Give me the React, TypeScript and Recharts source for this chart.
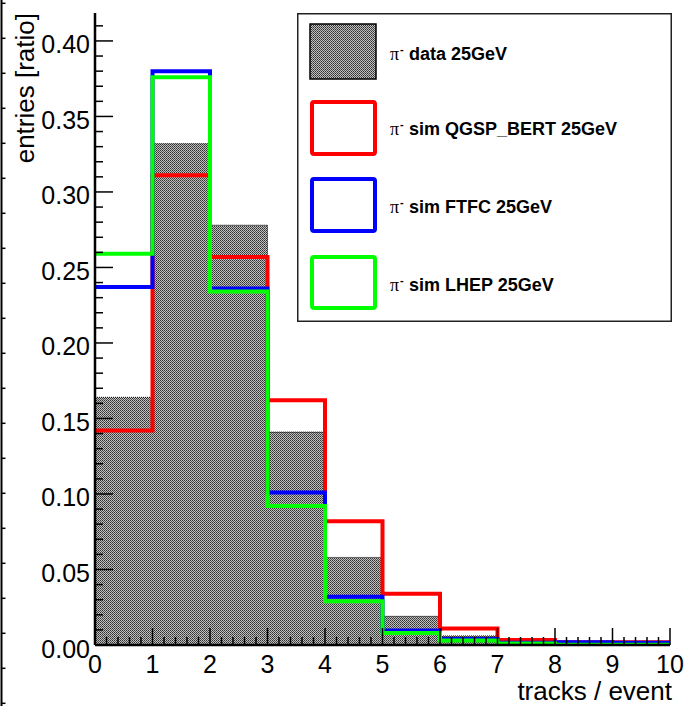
import React from 'react';
import { ComposedChart, Line, Area, XAxis, YAxis, Legend } from 'recharts';

// bin lower edges (0..9) plus the closing edge 10
const binEdges = [0, 1, 2, 3, 4, 5, 6, 7, 8, 9, 10];
// entries [ratio] per bin
const dataRatio = [0.164, 0.332, 0.278, 0.141, 0.058, 0.019, 0.006, 0.001, 0.0008, 0.0005];
const qgspRatio = [0.142, 0.311, 0.257, 0.162, 0.082, 0.034, 0.011, 0.0033, 0.0018, 0.0018];
const ftfcRatio = [0.237, 0.380, 0.236, 0.101, 0.032, 0.0096, 0.004, 0.0015, 0.0018, 0.0015];
const lhepRatio = [0.259, 0.376, 0.234, 0.092, 0.029, 0.008, 0.003, 0.001, 0.0002, 0.0002];

const xMajorTicks = [0, 1, 2, 3, 4, 5, 6, 7, 8, 9, 10];
const yMajorTicks = [0, 0.05, 0.1, 0.15, 0.2, 0.25, 0.3, 0.35, 0.4];
const xAllTicks = Array.from({ length: 51 }, (_, i) => i / 5);
const yAllTicks = Array.from({ length: 42 }, (_, i) => i / 100);

const legendPrefix = 'π';
const legendLabels = ['data 25GeV', 'sim QGSP_BERT 25GeV', 'sim FTFC 25GeV', 'sim LHEP 25GeV'];
const legendColors = ['#000000', '#ff0000', '#0000ff', '#00ff00'];

const rows = binEdges.map((x, i) => {
  const k = Math.min(i, dataRatio.length - 1);
  return { x, data: dataRatio[k], qgsp: qgspRatio[k], ftfc: ftfcRatio[k], lhep: lhepRatio[k] };
});

const FONT = '"Liberation Sans", Arial, Helvetica, sans-serif';

const isMajorX = (v: number) => xMajorTicks.some((t) => Math.abs(t - v) < 1e-6);
const isMajorY = (v: number) => yMajorTicks.some((t) => Math.abs(t - v) < 1e-6);

const BottomTick = (p: any) => {
  const v = p.payload.value;
  const major = isMajorX(v);
  return (
    <g>
      <line x1={p.x} x2={p.x} y1={p.y} y2={p.y - (major ? 17 : 8)} stroke="#000" strokeWidth={1.5} />
      {major && (
        <text x={p.x} y={p.y + 10} dy="0.71em" textAnchor="middle" fontSize={25} fontFamily={FONT} fill="#000">
          {String(v)}
        </text>
      )}
    </g>
  );
};

const TopTick = (p: any) => {
  const major = isMajorX(p.payload.value);
  return <line x1={p.x} x2={p.x} y1={p.y} y2={p.y + (major ? 17 : 8)} stroke="#000" strokeWidth={1.5} />;
};

const LeftTick = (p: any) => {
  const v = p.payload.value;
  const major = isMajorY(v);
  return (
    <g>
      <line x1={p.x} x2={p.x + (major ? 18 : 8)} y1={p.y} y2={p.y} stroke="#000" strokeWidth={1.5} />
      {major && (
        <text x={p.x - 5} y={p.y + 12.5} textAnchor="end" fontSize={25} fontFamily={FONT} fill="#000">
          {v.toFixed(2)}
        </text>
      )}
    </g>
  );
};

const RightTick = (p: any) => {
  const major = isMajorY(p.payload.value);
  return <line x1={p.x} x2={p.x - (major ? 18 : 8)} y1={p.y} y2={p.y} stroke="#000" strokeWidth={1.5} />;
};

const YTitle = (p: any) => {
  const vb = p.viewBox || { x: 0, y: 13 };
  const x = vb.x + 34;
  const y = vb.y;
  return (
    <text x={x} y={y} transform={`rotate(-90, ${x}, ${y})`} textAnchor="end" fontSize={26} fontFamily={FONT} fill="#000">
      entries [ratio]
    </text>
  );
};

const XTitle = (p: any) => {
  const vb = p.viewBox || { x: 95, y: 645, width: 575, height: 61 };
  return (
    <text x={vb.x + vb.width + 2} y={vb.y + vb.height - 6} textAnchor="end" fontSize={26} fontFamily={FONT} fill="#000">
      tracks / event
    </text>
  );
};

const PatternDef = ({ id }: { id: string }) => (
  <pattern id={id} patternUnits="userSpaceOnUse" x={0} y={0} width={2} height={2}>
    <rect x={0} y={0} width={2} height={2} fill="#c0c0c0" shapeRendering="crispEdges" />
    <rect x={0} y={0} width={1} height={1} fill="#303030" shapeRendering="crispEdges" />
    <rect x={1} y={1} width={1} height={1} fill="#505050" shapeRendering="crispEdges" />
  </pattern>
);

const LegendBox = () => {
  const boxes = [
    { y: 11, h: 55 },
    { y: 89, h: 52 },
    { y: 166, h: 52 },
    { y: 244, h: 51 },
  ];
  const baselines = [47, 122, 200, 278];
  return (
    <svg width={375} height={309} style={{ display: 'block' }}>
      <defs>
        <PatternDef id="legendPattern" />
      </defs>
      <rect x={0.75} y={0.75} width={373.5} height={307.5} fill="#fff" stroke="#222" strokeWidth={1.5} />
      {legendLabels.map((label, i) => (
        <g key={label}>
          {i === 0 ? (
            <rect x={13} y={boxes[i].y} width={66} height={boxes[i].h} fill="url(#legendPattern)" stroke="#000" strokeWidth={1.5} />
          ) : (
            <rect x={15} y={boxes[i].y} width={63} height={boxes[i].h} rx={2} fill="none" stroke={legendColors[i]} strokeWidth={4} />
          )}
          <text y={baselines[i]} fill="#000">
            <tspan x={93} fontFamily='"Liberation Serif", "DejaVu Serif", serif' fontSize={18}>
              {legendPrefix}
            </tspan>
            <tspan x={103} fontFamily={FONT} fontSize={11} fontWeight="bold" dy={-7}>
              -
            </tspan>
            <tspan x={112} dy={7} fontFamily={FONT} fontSize={18} fontWeight="bold">
              {label}
            </tspan>
          </text>
        </g>
      ))}
    </svg>
  );
};

const EdgeDecoration = () => {
  const ticks = Array.from({ length: 21 }, (_, k) => 3.3 + 35 * k);
  return (
    <svg width={8} height={706} style={{ position: 'absolute', left: 0, top: 0 }}>
      <line x1={1.5} x2={1.5} y1={0} y2={706} stroke="#000" strokeWidth={2} />
      {ticks.map((t) => (
        <line key={t} x1={1.5} x2={5.5} y1={t} y2={t} stroke="#000" strokeWidth={1.5} />
      ))}
    </svg>
  );
};

const axisLine = { stroke: '#000', strokeWidth: 2.5 };

export default function App() {
  return (
    <div style={{ position: 'absolute', left: 0, top: 0, width: 686, height: 706, background: '#fff' }}>
      <ComposedChart width={686} height={706} data={rows} margin={{ top: 13, right: 16, left: 0, bottom: 0 }}>
        <defs>
          <PatternDef id="dataPattern" />
        </defs>
        <Area
          xAxisId="b"
          yAxisId="l"
          type="stepAfter"
          dataKey="data"
          fill="url(#dataPattern)"
          fillOpacity={1}
          stroke="#000"
          strokeWidth={1}
          strokeDasharray="1 1"
          baseValue={0}
          isAnimationActive={false}
          dot={false}
          activeDot={false}
        />
        <Line xAxisId="b" yAxisId="l" type="stepAfter" dataKey="qgsp" stroke="#ff0000" strokeWidth={4} dot={false} activeDot={false} isAnimationActive={false} strokeLinejoin="miter" />
        <Line xAxisId="b" yAxisId="l" type="stepAfter" dataKey="ftfc" stroke="#0000ff" strokeWidth={4} dot={false} activeDot={false} isAnimationActive={false} strokeLinejoin="miter" />
        <Line xAxisId="b" yAxisId="l" type="stepAfter" dataKey="lhep" stroke="#00ff00" strokeWidth={4} dot={false} activeDot={false} isAnimationActive={false} strokeLinejoin="miter" />
        <XAxis
          xAxisId="b"
          dataKey="x"
          type="number"
          domain={[0, 10]}
          allowDataOverflow
          ticks={xAllTicks}
          interval={0}
          height={61}
          tickSize={0}
          tickMargin={0}
          tickLine={false}
          axisLine={axisLine}
          tick={(p: any) => <BottomTick {...p} />}
          label={(p: any) => <XTitle {...p} />}
        />
        <XAxis
          xAxisId="t"
          orientation="top"
          type="number"
          domain={[0, 10]}
          allowDataOverflow
          ticks={xAllTicks}
          interval={0}
          height={0}
          tickSize={0}
          tickMargin={0}
          tickLine={false}
          axisLine={axisLine}
          tick={(p: any) => <TopTick {...p} />}
        />
        <YAxis
          yAxisId="l"
          type="number"
          domain={[0, 0.4185]}
          allowDataOverflow
          ticks={yAllTicks}
          interval={0}
          width={95}
          tickSize={0}
          tickMargin={0}
          tickLine={false}
          axisLine={axisLine}
          tick={(p: any) => <LeftTick {...p} />}
          label={(p: any) => <YTitle {...p} />}
        />
        <YAxis
          yAxisId="r"
          orientation="right"
          type="number"
          domain={[0, 0.4185]}
          allowDataOverflow
          ticks={yAllTicks}
          interval={0}
          width={0}
          tickSize={0}
          tickMargin={0}
          tickLine={false}
          axisLine={axisLine}
          tick={(p: any) => <RightTick {...p} />}
        />
        <Legend
          layout="vertical"
          align="center"
          verticalAlign="middle"
          wrapperStyle={{ position: 'absolute', left: 297, top: 13, width: 375, height: 309, margin: 0, padding: 0 }}
          content={() => <LegendBox />}
        />
      </ComposedChart>
      <EdgeDecoration />
    </div>
  );
}
